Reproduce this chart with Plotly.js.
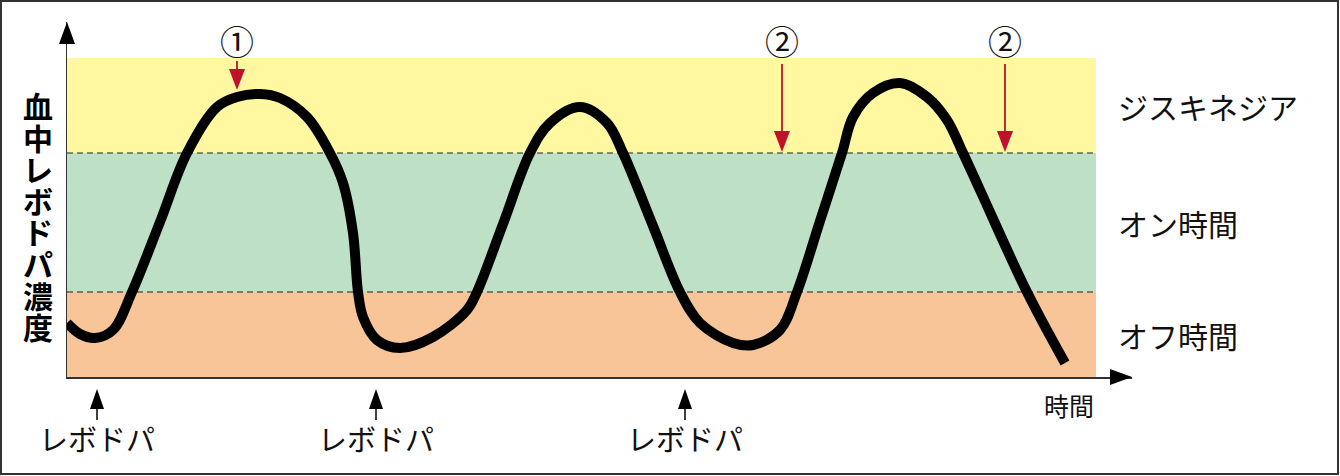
<!DOCTYPE html>
<html>
<head>
<meta charset="utf-8">
<script src="https://cdn.plot.ly/plotly-3.0.1.min.js"></script>
<style>html,body{margin:0;padding:0;background:#fff;}#chart{width:1340px;height:476px;}</style>
</head>
<body>
<div id="chart"></div>
<script>
// ---- data (time in arbitrary units, concentration in arbitrary units) ----
const timeX = [0, 13, 28, 46, 65, 93, 120, 150, 170, 193, 213, 240, 263, 276, 286, 291, 296, 310, 333,
  366, 400, 410, 436, 463, 483, 513, 540, 556, 586, 613, 633, 666, 686, 713, 730, 753, 775, 786, 806, 833,
  860, 880, 896, 913, 960, 998];
const level = [54, 43, 39, 47, 85, 155, 224, 270, 280, 283, 279, 260, 224, 194, 144, 85, 60, 37, 29,
  40, 67, 85, 153, 224, 254, 270, 254, 224, 151, 85, 54, 34, 32, 47, 85, 156, 224, 260, 284, 294,
  280, 257, 224, 187, 85, 14];
const bandEdges = [0, 85, 224, 319];
const bandColors = ['#F8C598', '#BEE0C6', '#FFF8A0'];
const bandLabels = ['オフ時間', 'オン時間', 'ジスキネジア'];
const bandEnd = 1029;
const doseTimes = [30, 309, 618];
const doseLabel = 'レボドパ';
const eventTimes = [170, 715, 938];
const eventLabels = ['①', '②', '②'];
const eventTips = [286, 224, 224];
const yTitleChars = ['血', '中', 'レ', 'ボ', 'ド', 'パ', '濃', '度'];
const xTitle = '時間';

// ---- layout geometry ----
const FW = 1340, FH = 476, L = 67, T = 22, W = 1065, H = 355;
const px2x = px => (px - L) / W;           // pixel -> paper x
const py2y = py => (T + H - py) / H;       // pixel -> paper y
const FONT = '"Noto Sans CJK JP", "Noto Sans", sans-serif';
const AX = '#333333', RED = '#C0112B';

const shapes = [];
const annotations = [];

// bands
for (let i = 0; i < bandColors.length; i++) {
  shapes.push({type: 'rect', xref: 'x', yref: 'y', x0: 0, x1: bandEnd, y0: bandEdges[i], y1: bandEdges[i + 1],
    fillcolor: bandColors[i], line: {width: 0}, layer: 'below'});
  annotations.push({xref: 'x', yref: 'y', x: bandEnd + 20, y: (bandEdges[i] + bandEdges[i + 1]) / 2,
    text: bandLabels[i], showarrow: false, xanchor: 'left', yanchor: 'middle',
    font: {family: FONT, size: 30, color: '#111'}});
}
// dashed boundaries
[bandEdges[1], bandEdges[2]].forEach(v => {
  shapes.push({type: 'line', xref: 'x', yref: 'y', x0: 0, x1: bandEnd, y0: v, y1: v,
    line: {color: '#222', width: 1.2, dash: '6px,4px'}, layer: 'below'});
});

// triangle helper in pixel space -> paper path
function tri(tx, ty, dir, len, hw, color) {
  let p;
  if (dir === 'up') p = [[tx, ty], [tx - hw, ty + len], [tx + hw, ty + len]];
  else if (dir === 'down') p = [[tx, ty], [tx - hw, ty - len], [tx + hw, ty - len]];
  else p = [[tx, ty], [tx - len, ty - hw], [tx - len, ty + hw]];
  const path = 'M' + p.map(q => px2x(q[0]) + ',' + py2y(q[1])).join(' L') + ' Z';
  return {type: 'path', xref: 'paper', yref: 'paper', path: path, fillcolor: color, line: {width: 0}};
}
function seg(x0, y0, x1, y1, color, w) {
  return {type: 'line', xref: 'paper', yref: 'paper', x0: px2x(x0), y0: py2y(y0), x1: px2x(x1), y1: py2y(y1),
    line: {color: color, width: w}};
}
const dx = t => L + t * W / 1065;     // data x -> pixel
const dy = v => T + H - v * H / 355;  // data y -> pixel

// axis arrowheads
shapes.push(tri(L, T, 'up', 22, 8, '#000'));
shapes.push(tri(L + W, T + H, 'right', 22, 8, '#000'));

// dose arrows
doseTimes.forEach(t => {
  const x = dx(t);
  shapes.push(seg(x, 405, x, 420, '#000', 1.5));
  shapes.push(tri(x, 389, 'up', 20, 7, '#000'));
  annotations.push({xref: 'paper', yref: 'paper', x: px2x(x), y: py2y(438), text: doseLabel, showarrow: false,
    xanchor: 'center', yanchor: 'middle', font: {family: FONT, size: 29, color: '#111'}});
});

// event markers ① ②
eventTimes.forEach((t, i) => {
  const x = dx(t);
  const tip = dy(eventTips[i]) - 1;
  const top = i === 0 ? 61 : 64;
  shapes.push(seg(x, top, x, tip - 18, RED, 1.8));
  shapes.push(tri(x, tip, 'down', 21, 8, RED));
  annotations.push({xref: 'paper', yref: 'paper', x: px2x(x), y: py2y(40), text: eventLabels[i], showarrow: false,
    xanchor: 'center', yanchor: 'middle', font: {family: FONT, size: 34, color: '#111'}});
});

// y title (vertical, one char per line; line pitch from base size, glyphs enlarged)
annotations.push({xref: 'paper', yref: 'paper', x: px2x(38), y: py2y(215.5),
  text: yTitleChars.map(c => '<span style="font-size:30px">' + c + '</span>').join('<br>'),
  showarrow: false, xanchor: 'center', yanchor: 'middle', align: 'center',
  font: {family: FONT, size: 24.3, weight: 700, color: '#000'}});
// x title
annotations.push({xref: 'paper', yref: 'paper', x: px2x(1069), y: py2y(405), text: xTitle, showarrow: false,
  xanchor: 'center', yanchor: 'middle', font: {family: FONT, size: 25, color: '#111'}});

// outer frame
shapes.push({type: 'rect', xref: 'paper', yref: 'paper', x0: px2x(1), x1: px2x(1338), y0: py2y(1), y1: py2y(474),
  line: {color: '#333', width: 2}, fillcolor: 'rgba(0,0,0,0)'});

const trace = {x: timeX, y: level, type: 'scatter', mode: 'lines',
  line: {color: '#000', width: 10, shape: 'spline', smoothing: 1}, hoverinfo: 'skip'};

const layout = {
  width: FW, height: FH, margin: {l: L, r: FW - L - W, t: T, b: FH - T - H, pad: 0},
  paper_bgcolor: '#fff', plot_bgcolor: 'rgba(0,0,0,0)', showlegend: false,
  xaxis: {range: [0, 1065], showline: true, linecolor: AX, linewidth: 1.5, showgrid: false, zeroline: false,
    showticklabels: false, ticks: '', fixedrange: true},
  yaxis: {range: [0, 355], showline: true, linecolor: AX, linewidth: 1.5, showgrid: false, zeroline: false,
    showticklabels: false, ticks: '', fixedrange: true},
  shapes: shapes, annotations: annotations
};
Plotly.newPlot('chart', [trace], layout, {displayModeBar: false, staticPlot: true});
</script>
</body>
</html>
